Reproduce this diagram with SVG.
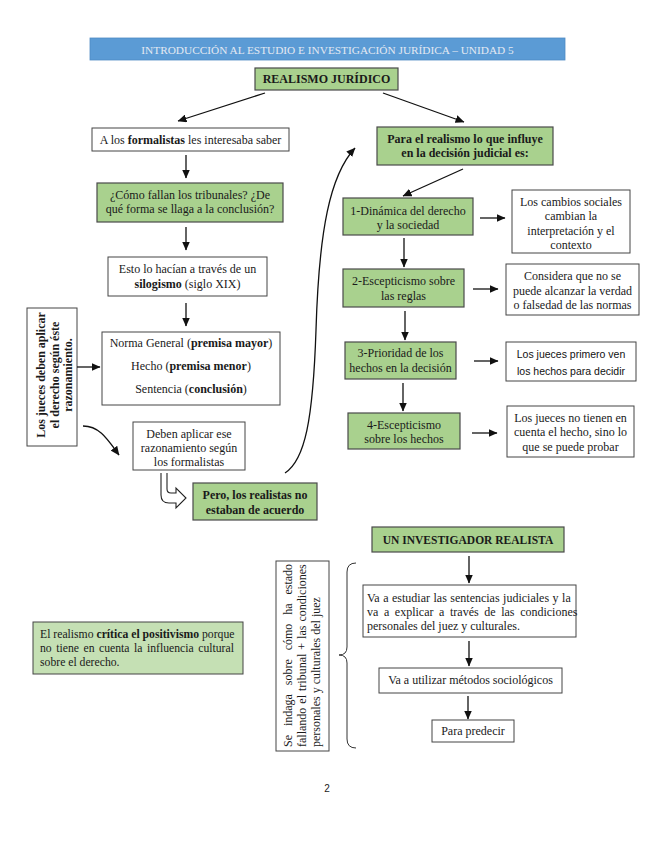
<svg xmlns="http://www.w3.org/2000/svg" width="655" height="848" viewBox="0 0 655 848">
<defs>
<marker id="ah" markerUnits="userSpaceOnUse" markerWidth="9" markerHeight="8" refX="8.5" refY="4" orient="auto">
<path d="M0,0 L9,4 L0,8 z" fill="#111"/>
</marker>
<style>
.box{fill:#fff;stroke:#444;stroke-width:1}
.grn{fill:#a9d18e;stroke:#4a4a4a;stroke-width:1.2}
.t{font-family:"Liberation Serif","Times New Roman",serif;font-size:12px;fill:#1a1a1a}
.c{text-anchor:middle}
.b{font-weight:bold}
.s{font-family:"Liberation Sans",Arial,sans-serif;font-size:10.5px;fill:#111;text-anchor:middle}
.ln{stroke:#111;stroke-width:1.3;fill:none}
</style>
</defs>
<rect width="655" height="848" fill="#fff"/>

<g id="header">
<rect x="90" y="38" width="475" height="22" fill="#5b9bd5" stroke="#4f8bc4" stroke-width="0.8"/>
<text x="327.5" y="54" class="t c" style="font-size:11.3px;fill:#e3e9f2">INTRODUCCIÓN AL ESTUDIO E INVESTIGACIÓN JURÍDICA – UNIDAD 5</text>
</g>

<g id="n_realismo">
<rect x="255" y="68" width="143" height="22" class="grn"/>
<text x="326.5" y="83" class="t c b">REALISMO JURÍDICO</text>
</g>

<g id="n_formalistas">
<rect x="92" y="128" width="197" height="23" class="box"/>
<text x="190.5" y="144" class="t c">A los <tspan class="b">formalistas</tspan> les interesaba saber</text>
</g>

<g id="n_como">
<rect x="97" y="183" width="186" height="39" class="grn"/>
<text x="190" y="199" class="t c">¿Cómo fallan los tribunales? ¿De</text>
<text x="190" y="213" class="t c">qué forma se llaga a la conclusión?</text>
</g>

<g id="n_esto">
<rect x="108" y="257" width="159" height="39" class="box"/>
<text x="187.5" y="273" class="t c">Esto lo hacían a través de un</text>
<text x="187.5" y="288" class="t c"><tspan class="b">silogismo</tspan> (siglo XIX)</text>
</g>

<g id="n_norma">
<rect x="102" y="332" width="178" height="73" class="box"/>
<text x="191" y="347" class="t c">Norma General (<tspan class="b">premisa mayor</tspan>)</text>
<text x="191" y="370" class="t c">Hecho (<tspan class="b">premisa menor</tspan>)</text>
<text x="191" y="393" class="t c">Sentencia (<tspan class="b">conclusión</tspan>)</text>
</g>

<g id="n_jueces">
<rect x="27" y="308" width="50" height="138" class="box"/>
<g transform="translate(0,375) rotate(-90)">
<text x="0" y="45" class="t c b">Los jueces deben aplicar</text>
<text x="0" y="58.5" class="t c b">el derecho según éste</text>
<text x="0" y="72" class="t c b">razonamiento.</text>
</g>
</g>

<g id="n_deben">
<rect x="133" y="422" width="112" height="48" class="box"/>
<text x="189" y="438" class="t c">Deben aplicar ese</text>
<text x="189" y="452" class="t c">razonamiento según</text>
<text x="189" y="466" class="t c">los formalistas</text>
</g>

<g id="n_pero">
<rect x="193" y="483" width="124" height="37" class="grn"/>
<text x="255" y="499" class="t c b">Pero, los realistas no</text>
<text x="255" y="514" class="t c b">estaban de acuerdo</text>
</g>

<g id="n_para">
<rect x="377" y="127" width="176" height="38" class="grn"/>
<text x="465" y="143" class="t c b">Para el realismo lo que influye</text>
<text x="465" y="157" class="t c b">en la decisión judicial es:</text>
</g>

<g id="n_p1">
<rect x="343" y="198" width="130" height="37" class="grn"/>
<text x="408" y="215" class="t c">1-Dinámica del derecho</text>
<text x="408" y="229" class="t c">y la sociedad</text>
</g>
<g id="n_r1">
<rect x="512" y="190" width="118" height="63" class="box"/>
<text x="571" y="206" class="t c">Los cambios sociales</text>
<text x="571" y="220" class="t c">cambian la</text>
<text x="571" y="235" class="t c">interpretación y el</text>
<text x="571" y="249" class="t c">contexto</text>
</g>

<g id="n_p2">
<rect x="343" y="269" width="121" height="38" class="grn"/>
<text x="403.5" y="285" class="t c">2-Escepticismo sobre</text>
<text x="403.5" y="300" class="t c">las reglas</text>
</g>
<g id="n_r2">
<rect x="506" y="264" width="133" height="51" class="box"/>
<text x="572.5" y="280" class="t c">Considera que no se</text>
<text x="572.5" y="294.5" class="t c">puede alcanzar la verdad</text>
<text x="572.5" y="309" class="t c">o falsedad de las normas</text>
</g>

<g id="n_p3">
<rect x="345" y="342" width="111" height="37" class="grn"/>
<text x="400.5" y="357" class="t c">3-Prioridad de los</text>
<text x="400.5" y="372" class="t c">hechos en la decisión</text>
</g>
<g id="n_r3">
<rect x="506" y="342" width="130" height="39" class="box"/>
<text x="571" y="358" class="s">Los jueces primero ven</text>
<text x="571" y="375" class="s">los hechos para decidir</text>
</g>

<g id="n_p4">
<rect x="348" y="413" width="112" height="36" class="grn"/>
<text x="404" y="429" class="t c">4-Escepticismo</text>
<text x="404" y="443" class="t c">sobre los hechos</text>
</g>
<g id="n_r4">
<rect x="507" y="406" width="127" height="51" class="box"/>
<text x="570.5" y="422" class="t c">Los jueces no tienen en</text>
<text x="570.5" y="436" class="t c">cuenta el hecho, sino lo</text>
<text x="570.5" y="451" class="t c">que se puede probar</text>
</g>

<g id="n_investigador">
<rect x="372" y="527" width="192" height="25" class="grn"/>
<text x="468" y="544" class="t c b" style="font-size:11.5px">UN INVESTIGADOR REALISTA</text>
</g>

<g id="n_estudiar">
<rect x="363" y="585" width="213" height="52" class="box"/>
<text x="367" y="602" class="t" style="word-spacing:0.5px">Va a estudiar las sentencias judiciales y la</text>
<text x="367" y="616" class="t" style="word-spacing:2.6px">va a explicar a través de las condiciones</text>
<text x="367" y="630" class="t">personales del juez y culturales.</text>
</g>

<g id="n_metodos">
<rect x="379" y="668" width="183" height="25" class="box"/>
<text x="470.5" y="684" class="t c">Va a utilizar métodos sociológicos</text>
</g>

<g id="n_predecir">
<rect x="432" y="720" width="82" height="22" class="box"/>
<text x="473" y="735" class="t c">Para predecir</text>
</g>

<g id="n_indaga">
<rect x="276" y="561" width="53" height="190" class="box"/>
<g transform="translate(0,747) rotate(-90)">
<text x="0" y="292" class="t" style="word-spacing:5.9px">Se indaga sobre cómo ha estado</text>
<text x="0" y="306" class="t" style="word-spacing:1px">fallando el tribunal + las condiciones</text>
<text x="0" y="320" class="t">personales y culturales del juez</text>
</g>
</g>

<g id="n_critica">
<rect x="33" y="622" width="210" height="52" fill="#c5e0b4" stroke="#444" stroke-width="1"/>
<text x="40" y="638" class="t" style="font-size:11.7px">El realismo <tspan class="b">crítica el positivismo</tspan> porque</text>
<text x="40" y="652" class="t" style="font-size:11.7px;word-spacing:1.6px">no tiene en cuenta la influencia cultural</text>
<text x="40" y="666" class="t" style="font-size:11.7px">sobre el derecho.</text>
</g>

<g id="connectors">
<line x1="265" y1="93" x2="178" y2="121" class="ln" marker-end="url(#ah)"/>
<line x1="383" y1="93" x2="464" y2="122" class="ln" marker-end="url(#ah)"/>
<line x1="186" y1="155" x2="186" y2="178" class="ln" marker-end="url(#ah)"/>
<line x1="186" y1="227" x2="186" y2="250" class="ln" marker-end="url(#ah)"/>
<line x1="186" y1="303" x2="186" y2="326" class="ln" marker-end="url(#ah)"/>
<line x1="77" y1="367" x2="100" y2="367" class="ln" marker-end="url(#ah)"/>
<path d="M83,426 C100,426 108,440 119,455" class="ln" marker-end="url(#ah)"/>
<path d="M161,473 L161,495 Q161,503 169,503 L176,503 L176,508 L186,498 L176,488 L176,493 L171,493 Q167,493 167,489 L167,473" fill="#fff" stroke="#222" stroke-width="1.1"/>
<path d="M285,473 C305,460 313,420 316,330 C319,230 330,175 355,148" class="ln" marker-end="url(#ah)"/>
<line x1="463" y1="169" x2="403" y2="196" class="ln" marker-end="url(#ah)"/>
<line x1="480" y1="218" x2="505" y2="218" class="ln" marker-end="url(#ah)"/>
<line x1="404" y1="238" x2="404" y2="267" class="ln" marker-end="url(#ah)"/>
<line x1="473" y1="289" x2="498" y2="289" class="ln" marker-end="url(#ah)"/>
<line x1="405" y1="311" x2="405" y2="340" class="ln" marker-end="url(#ah)"/>
<line x1="474" y1="361" x2="498" y2="361" class="ln" marker-end="url(#ah)"/>
<line x1="403" y1="383" x2="403" y2="411" class="ln" marker-end="url(#ah)"/>
<line x1="472" y1="433" x2="497" y2="433" class="ln" marker-end="url(#ah)"/>
<line x1="469" y1="556" x2="469" y2="583" class="ln" marker-end="url(#ah)"/>
<line x1="469" y1="641" x2="469" y2="666" class="ln" marker-end="url(#ah)"/>
<line x1="468" y1="696" x2="468" y2="719" class="ln" marker-end="url(#ah)"/>
<path d="M356,563 Q347,563 347,572 L347,647 Q347,655 339,655 Q347,655 347,663 L347,739 Q347,748 356,748" fill="none" stroke="#333" stroke-width="1"/>
</g>

<text x="327" y="792" style="font-family:'Liberation Sans',Arial,sans-serif;font-size:10px;fill:#222" text-anchor="middle">2</text>
</svg>
